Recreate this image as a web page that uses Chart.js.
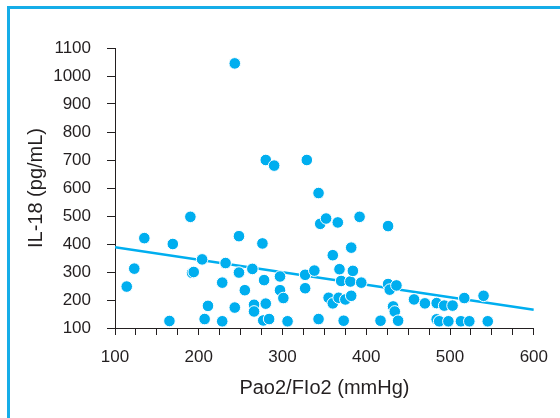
<!DOCTYPE html>
<html>
<head>
<meta charset="utf-8">
<script src="https://cdn.jsdelivr.net/npm/chart.js@4.4.1/dist/chart.umd.min.js"></script>
<style>
  html, body { margin: 0; padding: 0; background: #fff; }
  #wrap { position: relative; width: 560px; height: 418px; overflow: hidden; }
  #frame {
    position: absolute; left: 7px; top: 6px; width: 600px; height: 500px;
    border-top: 3px solid #16ade8; border-left: 3px solid #16ade8;
    pointer-events: none;
  }
  canvas { position: absolute; left: 0; top: 0; }
</style>
</head>
<body>
<div id="wrap">
  <canvas id="scatterChart" width="560" height="418"></canvas>
  <div id="frame"></div>
</div>
<script>
// ================== DATA ===================
const pfRatio = [
  114, 123, 135, 165, 169, 190, 192, 194, 204, 207, 211, 228, 228, 232, 243, 243,
  248, 248, 255, 264, 266, 266, 276, 278, 277, 280, 284, 280, 290, 297, 297, 301,
  306, 327, 327, 329, 338, 343, 343, 345, 352, 366, 355, 360, 360, 367, 368, 370,
  373, 375, 381, 382, 382, 384, 392, 394, 417, 426, 426, 428, 436, 432, 434, 438,
  457, 470, 484, 484, 487, 493, 498, 503, 513, 517, 523, 540, 545
];
const il18 = [
  248, 312, 421, 125, 400, 497, 297, 300, 345, 132, 179, 262, 124, 332, 173, 1045,
  428, 298, 235, 311, 183, 159, 402, 271, 127, 187, 132, 700, 680, 284, 235, 207,
  124, 290, 242, 700, 305, 132, 582, 472, 491, 477, 208, 360, 188, 208, 310, 268,
  126, 202, 266, 387, 215, 304, 497, 262, 126, 464, 257, 237, 252, 177, 159, 126,
  202, 188, 189, 131, 124, 180, 124, 180, 124, 207, 124, 215, 124
];

// fitted line, read at both ends of the x range
const fitX = [100, 600];
const fitY = [388, 165];

const xTicks = [100, 200, 300, 400, 500, 600];

const markColor = "#00aeef";
const inkColor = "#231f20";

// ================== CHART ===================
function renderScatter() {
  const ctx = document.getElementById("scatterChart").getContext("2d");

  const points = pfRatio.map((x, i) => ({ x: x, y: il18[i] }));
  const fit = fitX.map((x, i) => ({ x: x, y: fitY[i] }));

  new Chart(ctx, {
    type: "scatter",
    data: {
      datasets: [
        {
          type: "line",
          data: fit,
          borderColor: markColor,
          borderWidth: 2.5,
          pointRadius: 0,
          fill: false,
          order: 2
        },
        {
          data: points,
          backgroundColor: markColor,
          borderColor: "#ffffff",
          borderWidth: 1,
          pointRadius: 5.8,
          pointHoverRadius: 5.8,
          order: 1
        }
      ]
    },
    options: {
      responsive: false,
      animation: false,
      layout: { padding: { top: 48, right: 24, bottom: 0, left: 0 } },
      plugins: {
        legend: { display: false },
        tooltip: { enabled: false }
      },
      scales: {
        x: {
          type: "linear",
          min: 100,
          max: 600,
          afterFit: scale => { scale.height = 90; },
          border: { display: true, color: inkColor, width: 1 },
          grid: { drawOnChartArea: false, drawTicks: true, tickLength: 7, tickColor: inkColor },
          ticks: {
            stepSize: 25,
            autoSkip: false,
            maxRotation: 0,
            padding: 12,
            color: inkColor,
            font: { family: "Liberation Sans", size: 17 },
            callback: v => (xTicks.includes(v) ? String(v) : "")
          },
          title: {
            display: true,
            text: "Pao2/FIo2 (mmHg)",
            color: inkColor,
            font: { family: "Liberation Sans", size: 20 },
            padding: { top: 0, bottom: 18 }
          }
        },
        y: {
          type: "linear",
          min: 100,
          max: 1100,
          afterFit: scale => { scale.width = 115; },
          border: { display: true, color: inkColor, width: 1 },
          grid: { drawOnChartArea: false, drawTicks: true, tickLength: 8, tickColor: inkColor },
          ticks: {
            stepSize: 100,
            padding: 16,
            color: inkColor,
            font: { family: "Liberation Sans", size: 17 },
            callback: v => String(v)
          },
          title: {
            display: true,
            text: "IL-18 (pg/mL)",
            color: inkColor,
            font: { family: "Liberation Sans", size: 20 },
            padding: { top: 24, bottom: 0 }
          }
        }
      }
    }
  });
}

renderScatter();
</script>
</body>
</html>
